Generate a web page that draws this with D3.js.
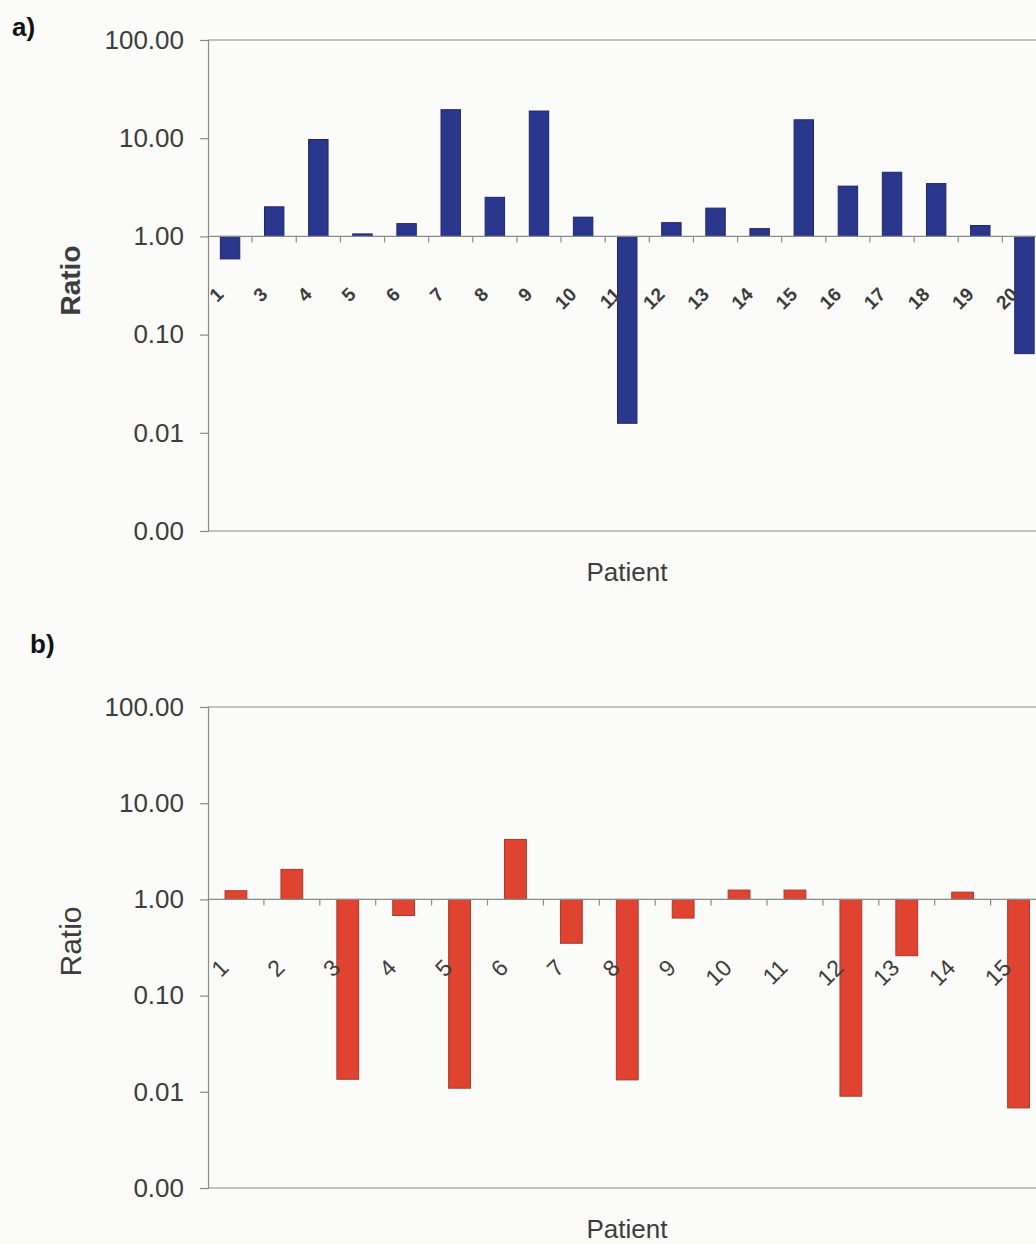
<!DOCTYPE html>
<html>
<head>
<meta charset="utf-8">
<script src="https://cdn.jsdelivr.net/npm/d3@7"></script>
<style>
html, body { margin: 0; padding: 0; overflow: hidden; background: #fbfbfa; }
svg { display: block; font-family: "Liberation Sans", Arial, sans-serif; }
</style>
</head>
<body>
<svg id="chart" width="1060" height="1244"></svg>
<script>
// ---- Data ----
const patientsA = ["1","3","4","5","6","7","8","9","10","11","12","13","14","15","16","17","18","19","20"];
const ratiosA   = [0.59, 2.0, 9.7, 1.06, 1.35, 19.5, 2.5, 18.9, 1.57, 0.0125, 1.38, 1.94, 1.2, 15.4, 3.25, 4.5, 3.45, 1.29, 0.064];

const patientsB = ["1","2","3","4","5","6","7","8","9","10","11","12","13","14","15"];
const ratiosB   = [1.23, 2.05, 0.0135, 0.68, 0.0109, 4.2, 0.35, 0.0133, 0.64, 1.25, 1.25, 0.009, 0.26, 1.19, 0.0068];

const yTicks = [0.001, 0.01, 0.1, 1, 10, 100];
const yTitle = "Ratio";
const xTitle = "Patient";

const svg = d3.select("#chart");
const textColor = "#3d3d3d";
const axisColor = "#8a8a8a";

function panel(opts) {
  const g = svg.append("g");
  const x = d3.scaleBand().domain(opts.cats).range([opts.left, opts.right])
    .paddingInner(opts.pad).paddingOuter(opts.pad / 2);
  const y = d3.scaleLog().domain([0.001, 100]).range([opts.bottom, opts.top]);

  // plot border lines (top & bottom)
  g.append("line").attr("x1", opts.left).attr("x2", opts.right)
    .attr("y1", y(100)).attr("y2", y(100)).attr("stroke", axisColor).attr("stroke-width", 1.2);
  g.append("line").attr("x1", opts.left).attr("x2", opts.right)
    .attr("y1", y(0.001)).attr("y2", y(0.001)).attr("stroke", axisColor).attr("stroke-width", 1.2);

  // bars
  g.selectAll("rect.bar").data(opts.vals).join("rect")
    .attr("class", "bar")
    .attr("x", (d, i) => x(opts.cats[i]))
    .attr("width", x.bandwidth())
    .attr("y", d => Math.min(y(d), y(1)))
    .attr("height", d => Math.abs(y(d) - y(1)))
    .attr("fill", opts.fill)
    .attr("stroke", opts.stroke)
    .attr("stroke-width", 1);

  // y axis
  const yAxis = d3.axisLeft(y).tickValues(yTicks).tickFormat(d3.format(".2f"))
    .tickSize(8).tickPadding(16);
  const ya = g.append("g").attr("transform", `translate(${opts.left},0)`).call(yAxis);
  ya.select(".domain").attr("stroke", axisColor).attr("stroke-width", 1.2);
  ya.selectAll(".tick line").attr("stroke", axisColor).attr("stroke-width", 1.2);
  ya.selectAll(".tick text").attr("fill", textColor).attr("font-size", 26)
    .attr("font-family", "Liberation Sans, Arial, sans-serif");

  // x axis at 1.00
  const xa = g.append("g").attr("transform", `translate(0,${y(1)})`);
  xa.append("line").attr("x1", opts.left).attr("x2", opts.right)
    .attr("stroke", axisColor).attr("stroke-width", 1.2);
  const bounds = d3.range(1, opts.cats.length + 1).map(i => opts.left + i * x.step());
  xa.selectAll("line.tk").data(bounds).join("line").attr("class", "tk")
    .attr("x1", d => d).attr("x2", d => d).attr("y1", 0).attr("y2", 6)
    .attr("stroke", axisColor).attr("stroke-width", 1.2);

  // rotated category labels
  g.selectAll("text.cat").data(opts.cats).join("text")
    .attr("class", "cat")
    .attr("transform", d => `translate(${x(d) + x.bandwidth() / 2 + opts.lblDx},${opts.lblY}) rotate(-45)`)
    .attr("text-anchor", "end")
    .attr("dominant-baseline", "central")
    .attr("font-size", opts.lblSize)
    .attr("font-weight", opts.bold ? "bold" : "normal")
    .attr("fill", textColor)
    .text(d => d);

  // y title
  g.append("text")
    .attr("transform", `translate(${opts.yTitleX},${(opts.top + opts.bottom) / 2 + opts.yTitleDy}) rotate(-90)`)
    .attr("text-anchor", "middle")
    .attr("dominant-baseline", "central")
    .attr("font-size", opts.yTitleSize)
    .attr("font-weight", opts.bold ? "bold" : "normal")
    .attr("fill", textColor)
    .text(yTitle);

  // x title
  g.append("text").attr("x", 627).attr("y", opts.xTitleY)
    .attr("text-anchor", "middle").attr("font-size", 26).attr("fill", textColor)
    .text(xTitle);

  // panel letter
  g.append("text").attr("x", opts.letterX).attr("y", opts.letterY)
    .attr("font-size", 26).attr("font-weight", "bold").attr("fill", "#111")
    .text(opts.letter);
}

panel({
  cats: patientsA, vals: ratiosA,
  left: 208, right: 1046.5, top: 40, bottom: 531, pad: 0.56,
  fill: "#2b378c", stroke: "#1e2766",
  lblDx: -10, lblY: 291, lblSize: 19, bold: true,
  yTitleX: 70, yTitleDy: -5, yTitleSize: 28,
  xTitleY: 581, letter: "a)", letterX: 12, letterY: 36
});

panel({
  cats: patientsB, vals: ratiosB,
  left: 208, right: 1046.5, top: 707, bottom: 1188, pad: 0.61,
  fill: "#e0432f", stroke: "#a83a2c",
  lblDx: -11.5, lblY: 963.5, lblSize: 23, bold: false,
  yTitleX: 70, yTitleDy: -6, yTitleSize: 30,
  xTitleY: 1238, letter: "b)", letterX: 30, letterY: 653
});
</script>
</body>
</html>
